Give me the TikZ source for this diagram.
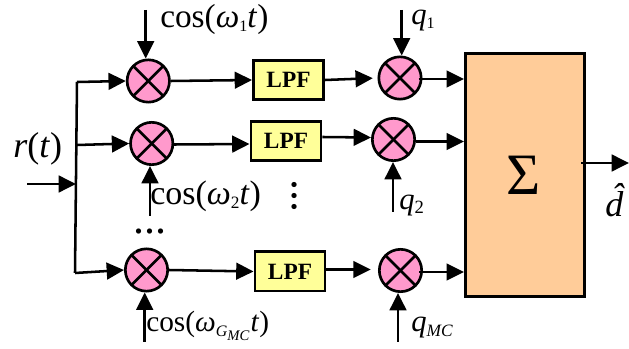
\documentclass[tikz,border=0pt]{standalone}
\usepackage{fontspec}
\setmainfont{Liberation Serif}
\usetikzlibrary{arrows.meta,calc}
\definecolor{pinkfill}{RGB}{255,153,204}
\definecolor{lpffill}{RGB}{255,255,153}
\definecolor{sumfill}{RGB}{255,204,153}
\tikzset{
  x=0.75pt,y=-0.75pt,
  mixer/.style={circle,draw,line width=2pt,fill=pinkfill,minimum size=31.75pt,inner sep=0pt,path picture={
    \draw[line width=2pt] ($(path picture bounding box.center)+(45:17pt)$) -- ($(path picture bounding box.center)+(225:17pt)$);
    \draw[line width=2pt] ($(path picture bounding box.center)+(135:17pt)$) -- ($(path picture bounding box.center)+(315:17pt)$);}},
  lpf/.style={rectangle,draw,line width=2pt,fill=lpffill,minimum width=52.7pt,minimum height=29.5pt,inner sep=0pt,font=\fontsize{17.5}{19}\selectfont\bfseries},
  sumbox/.style={rectangle,draw,line width=2pt,fill=sumfill,minimum width=89.6pt,minimum height=182.6pt,inner sep=0pt},
  wire/.style={line width=1.9pt,-{Triangle[length=13pt,width=12.5pt]}},
  bus/.style={line width=1.9pt},
  lab/.style={inner sep=0pt,anchor=base west},
  qlab/.style={inner sep=0pt,anchor=base west,font=\fontsize{23}{25}\selectfont\itshape},
  dotlab/.style={inner sep=0pt,anchor=base west,font=\fontsize{33}{35}\selectfont},
}
\newcommand{\lowered}[2]{\raisebox{-3pt}{\fontsize{#1}{#1}\selectfont #2}}
\begin{document}
\begin{tikzpicture}
\useasboundingbox (0,0) rectangle (629,349);
\coordinate (c1) at (145.7,10);
\coordinate (c2) at (150,216);
\coordinate (c3) at (144.7,342);
\coordinate (q1) at (401.7,10);
\coordinate (q2) at (393,212);
\coordinate (q3) at (398,342);
\coordinate (in) at (27,184);
\coordinate (inj) at (76,184);
\coordinate (t1) at (77,82);
\coordinate (t2) at (77,145);
\coordinate (t3) at (75,273);
\coordinate (o1) at (581,163);
\coordinate (o2) at (629,163);

\node[lpf] (l1) at (288.5,80) {LPF};
\node[lpf] (l2) at (286,141) {LPF};
\node[lpf] (l3) at (290,271.5) {LPF};
\node[sumbox] (s) at (525,175) {};
\node[inner sep=0pt,font=\fontsize{44}{46}\selectfont] (sigma) at (524,175) {Σ};
\node[mixer] (m1) at (148.3,81) {};
\node[mixer] (m2) at (151.7,143.5) {};
\node[mixer] (m3) at (146.5,270) {};
\node[mixer] (n1) at (400,78) {};
\node[mixer] (n2) at (393.5,139.5) {};
\node[mixer] (n3) at (400.5,270.5) {};

\draw[bus] (t1) -- (t3);
\draw[wire] (in) -- (inj);
\draw[wire] (t1) -- (m1.west);
\draw[wire] (t2) -- (m2.west);
\draw[wire] (t3) -- (m3.west);
\draw[wire] (c1) -- (c1 |- m1.north);
\draw[wire] (c2) -- (c2 |- m2.south);
\draw[wire] (c3) -- (c3 |- m3.south);
\draw[wire] (m1.east) -- (l1.west);
\draw[wire] ($(m2.east)+(0,1)$) -- ($(l2.west)+(0,3)$);
\draw[wire] (m3.east) -- (l3.west);
\draw[wire,shorten >=3.5pt] (l1.east) -- (n1.west);
\draw[wire] ($(l2.east)+(0,-4)$) -- ($(n2.west)+(0,-2)$);
\draw[wire,shorten >=5.5pt] ($(l3.east)+(0,-2)$) -- ($(n3.west)+(0,-1)$);
\draw[wire] (q1) -- (q1 |- n1.north);
\draw[wire] (q2) -- (q2 |- n2.south);
\draw[wire] (q3) -- (q3 |- n3.south);
\draw[wire] ($(n1.east)+(-4,1)$) -- ($(n1.east -| s.west)+(0,1)$);
\draw[wire] ($(n2.east)+(0,2)$) -- ($(n2.east -| s.west)+(0,2)$);
\draw[wire] ($(n3.east)+(-4,1.5)$) -- ($(n3.east -| s.west)+(0,1.5)$);
\draw[wire] (o1) -- (o2);

\node[lab,font=\fontsize{27}{29}\selectfont] (tr) at (13,158) {\textit{r}(\textit{t})};
\node[lab,font=\fontsize{25}{27}\selectfont] (tc1) at (160,28) {cos(\textit{ω}\lowered{12}{1}\textit{t})};
\node[lab,font=\fontsize{25.5}{27}\selectfont] (tc2) at (150,205) {cos(\textit{ω}\lowered{13}{2}\textit{t})};
\node[lab,font=\fontsize{22}{24}\selectfont] (tc3) at (146,332) {cos(\textit{ω}\lowered{12}{\itshape G\lowered{11}{MC}}\kern1pt\textit{t})};
\node[qlab] (tq1) at (411,25) {q\lowered{12}{\upshape 1}};
\node[qlab] (tq2) at (399,210) {q\lowered{14}{\upshape 2}};
\node[qlab] (tq3) at (411,332) {q\lowered{13}{MC}};
\node[dotlab,rotate=90] (vd) at (296,212.5) {...};
\node[dotlab] (hd) at (133.5,234) {...};
\node[lab,font=\fontsize{27}{29}\selectfont\itshape] (dh) at (605,217) {d\llap{\raisebox{6.5pt}{ˆ}}};
\end{tikzpicture}
\end{document}
